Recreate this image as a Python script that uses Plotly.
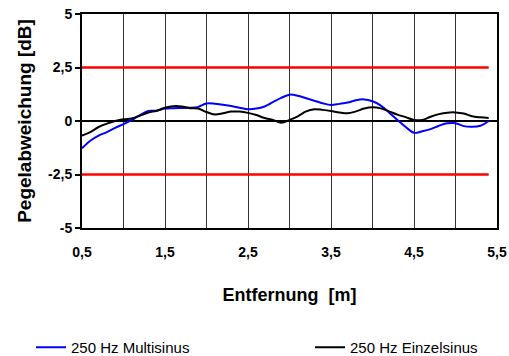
import plotly.graph_objects as go

distance = [round(0.5 + 0.1 * i, 1) for i in range(50)]

multisinus = [-1.27, -0.92, -0.68, -0.52, -0.32, -0.15, 0.05, 0.28, 0.47, 0.48,
              0.58, 0.60, 0.61, 0.62, 0.66, 0.82, 0.81, 0.76, 0.70, 0.62,
              0.55, 0.58, 0.68, 0.88, 1.08, 1.23, 1.18, 1.06, 0.95, 0.83,
              0.75, 0.80, 0.86, 0.97, 1.01, 0.92, 0.72, 0.40, 0.05, -0.28,
              -0.55, -0.48, -0.38, -0.22, -0.11, -0.10, -0.24, -0.27, -0.22, 0.00]

einzelsinus = [-0.68, -0.52, -0.28, -0.12, 0.00, 0.08, 0.12, 0.25, 0.40, 0.48,
               0.62, 0.69, 0.68, 0.60, 0.58, 0.42, 0.30, 0.36, 0.44, 0.44,
               0.38, 0.28, 0.14, 0.05, -0.08, 0.05, 0.22, 0.45, 0.55, 0.52,
               0.47, 0.40, 0.36, 0.45, 0.58, 0.64, 0.59, 0.45, 0.30, 0.18,
               0.05, 0.05, 0.20, 0.32, 0.39, 0.40, 0.35, 0.22, 0.17, 0.14]

upper_limit = [2.5] * len(distance)
lower_limit = [-2.5] * len(distance)

x_tickvals = [0.5, 1.5, 2.5, 3.5, 4.5, 5.5]
x_ticktext = ["0,5", "1,5", "2,5", "3,5", "4,5", "5,5"]
x_gridvals = [1.0, 2.0, 3.0, 4.0, 5.0]
y_tickvals = [5, 2.5, 0, -2.5, -5]
y_ticktext = ["5", "2,5", "0", "-2,5", "-5"]

FONT = "Liberation Sans, Arial, sans-serif"

fig = go.Figure()
fig.add_trace(go.Scatter(x=distance, y=upper_limit, mode="lines",
                         line=dict(color="#ff0000", width=2.5), showlegend=False, hoverinfo="skip"))
fig.add_trace(go.Scatter(x=distance, y=lower_limit, mode="lines",
                         line=dict(color="#ff0000", width=2.5), showlegend=False, hoverinfo="skip"))
fig.add_trace(go.Scatter(x=distance, y=multisinus, mode="lines", name="250 Hz Multisinus",
                         legendwidth=234,
                         line=dict(color="#0000ff", width=2, shape="spline")))
fig.add_trace(go.Scatter(x=distance, y=einzelsinus, mode="lines", name="250 Hz Einzelsinus",
                         line=dict(color="#000000", width=2, shape="spline")))

fig.update_layout(
    width=509, height=356,
    margin=dict(l=82, r=12, t=14, b=128, autoexpand=False),
    paper_bgcolor="white", plot_bgcolor="white",
    font=dict(family=FONT, color="black", size=14),
    legend=dict(orientation="h", x=(31 - 82) / 415, xanchor="left", y=-(331 - 228) / 214, yanchor="top",
                xref="paper", yref="paper",
                font=dict(size=15, family=FONT),
                itemwidth=30, tracegroupgap=0, bgcolor="rgba(0,0,0,0)"),
    xaxis=dict(range=[0.5, 5.5], tickvals=x_tickvals, ticktext=x_ticktext, automargin=False,
               showgrid=True, gridcolor="#333333", gridwidth=1,
               minor=dict(tickvals=x_gridvals, showgrid=True, gridcolor="#333333", gridwidth=1),
               showline=True, linecolor="black", linewidth=2, mirror=True,
               ticks="", zeroline=False, ticklabelstandoff=10,
               tickfont=dict(size=14, family=FONT, weight="bold"),
               title=dict(text="<b>Entfernung  [m]</b>", font=dict(size=18, family=FONT), standoff=30)),
    yaxis=dict(range=[-5, 5], tickvals=y_tickvals, ticktext=y_ticktext, automargin=False,
               showgrid=False, zeroline=True, zerolinecolor="black", zerolinewidth=1.5,
               showline=True, linecolor="black", linewidth=2, mirror=True,
               ticks="outside", ticklen=5, tickcolor="black", tickwidth=1.5,
               tickfont=dict(size=14, family=FONT, weight="bold"),
               title=dict(text="<b>Pegelabweichung [dB]</b>", font=dict(size=19, family=FONT), standoff=11)),
)

fig.write_html("out.html", config={"displayModeBar": False},
               post_script="document.body.style.margin='0';document.body.style.overflow='hidden';")
